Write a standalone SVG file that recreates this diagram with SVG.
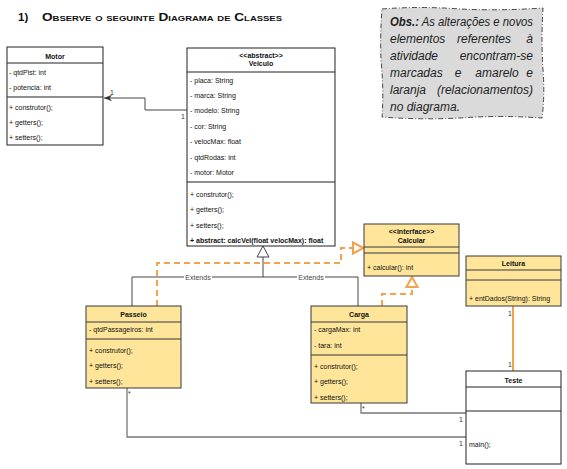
<svg xmlns="http://www.w3.org/2000/svg" width="567" height="469" viewBox="0 0 567 469">
<style>
text{font-family:"Liberation Sans",Arial,sans-serif;font-size:7px;fill:#111}
.b{font-weight:bold}
.c{text-anchor:middle}
.e{text-anchor:end}
.o{font-size:12px;font-style:italic;fill:#222}
.box{fill:#fff;stroke:#222;stroke-width:1}
.yb{fill:#ffe599;stroke:#36393d;stroke-width:1}
.dv{stroke:#222;stroke-width:1}
.ydv{stroke:#36393d;stroke-width:1}
.con{fill:none;stroke:#444;stroke-width:1}
.gcon{fill:none;stroke:#777;stroke-width:1.3}
.or{fill:none;stroke:#f4a24c;stroke-width:2;stroke-dasharray:6 4}
.lbl{font-size:7px;fill:#333}
.ext{font-size:7px;fill:#444}
</style>
<defs>
<marker id="open" viewBox="0 0 10 10" refX="10" refY="5" markerWidth="8" markerHeight="8" orient="auto" markerUnits="userSpaceOnUse">
<path d="M0,1 L10,5 L0,9 L3,5 Z" fill="#333"/>
</marker>
</defs>
<rect width="567" height="469" fill="#fff"/>
<g id="title">
<text x="18" y="21" class="b" style="font-size:11.5px">1)</text>
<text x="42" y="21" class="b" style="font-size:11.5px;font-variant:small-caps" textLength="240" lengthAdjust="spacingAndGlyphs">Observe o seguinte Diagrama de Classes</text>
</g>
<g id="obs">
<path d="M382,9 Q420,6 460,9 Q500,11 543,8 Q541,40 543,70 Q545,95 542,118 Q500,115 460,118 Q420,120 382,117 Q384,90 381,60 Q380,35 382,9 Z" fill="#dadada" stroke="#444" stroke-width="1" stroke-dasharray="5 2 1 2"/>
<text class="o" x="390" y="26" textLength="143" lengthAdjust="spacingAndGlyphs"><tspan font-weight="bold">Obs.:</tspan> As alterações e novos</text>
<text class="o" x="390" y="43">elementos</text>
<text class="o c" x="484" y="43">referentes</text>
<text class="o e" x="533" y="43">à</text>
<text class="o" x="390" y="60">atividade</text>
<text class="o e" x="533" y="60">encontram-se</text>
<text class="o" x="390" y="77">marcadas</text>
<text class="o c" x="458" y="77">e</text>
<text class="o c" x="497" y="77">amarelo</text>
<text class="o e" x="533" y="77">e</text>
<text class="o" x="390" y="94">laranja</text>
<text class="o e" x="533" y="94">(relacionamentos)</text>
<text class="o" x="390" y="111">no diagrama.</text>
</g>
<g id="connectors">
<path class="con" d="M187,110 H145 V98 H104" marker-end="url(#open)"/>
<text class="lbl" x="110" y="95">1</text>
<text class="lbl" x="181" y="119">1</text>
<path class="con" d="M132,306 V277 H358 V306"/>
<path class="con" d="M263,277 V257"/>
<path d="M263,246 L257,257 L269,257 Z" fill="#fff" stroke="#444" stroke-width="1"/>
<rect x="184" y="273" width="28" height="8" fill="#fff"/>
<text class="ext c" x="198" y="279.5">Extends</text>
<rect x="297" y="273" width="28" height="8" fill="#fff"/>
<text class="ext c" x="311" y="279.5">Extends</text>
<path class="or" d="M157,306 V263 H341 V248 H354"/>
<path d="M363.5,248 L353,242.5 L353,253.5 Z" fill="#fff" stroke="#f4a24c" stroke-width="2"/>
<path class="or" d="M382,306 V294 H412 V287"/>
<path d="M412,277 L406.5,287 L417.5,287 Z" fill="#fff" stroke="#f4a24c" stroke-width="2"/>
<path d="M513,306 V371" fill="none" stroke="#f4a24c" stroke-width="2"/>
<text class="lbl" x="508" y="316">1</text>
<text class="lbl" x="508" y="367">1</text>
<path class="gcon" d="M127,388 V437 H466"/>
<text class="lbl" x="128" y="396">*</text>
<text class="lbl" x="459" y="446">1</text>
<path class="gcon" d="M361,403 V413 H466"/>
<text class="lbl" x="362" y="411">*</text>
<text class="lbl" x="459" y="422">1</text>
</g>
<g id="motor">
<rect class="box" x="7" y="47" width="96" height="98"/>
<line class="dv" x1="7" y1="63" x2="103" y2="63"/>
<line class="dv" x1="7" y1="97" x2="103" y2="97"/>
<text class="b c" x="55" y="58.5">Motor</text>
<text x="9" y="74.5">- qtdPist: int</text>
<text x="9" y="89.5">- potencia: int</text>
<text x="9" y="109.5">+ construtor();</text>
<text x="9" y="124.5">+ getters();</text>
<text x="9" y="139.5">+ setters();</text>
</g>
<g id="veiculo">
<rect class="box" x="187" y="48" width="148" height="198"/>
<line class="dv" x1="187" y1="72" x2="335" y2="72"/>
<line class="dv" x1="187" y1="182" x2="335" y2="182"/>
<text class="b c" x="261" y="57.5">&lt;&lt;abstract&gt;&gt;</text>
<text class="b c" x="261" y="66">Veiculo</text>
<text x="190" y="82.5">- placa: String</text>
<text x="190" y="97.5">- marca: String</text>
<text x="190" y="113">- modelo: String</text>
<text x="190" y="128.5">- cor: String</text>
<text x="190" y="144">- velocMax: float</text>
<text x="190" y="159.5">- qtdRodas: int</text>
<text x="190" y="175">- motor: Motor</text>
<text x="190" y="196.5">+ construtor();</text>
<text x="190" y="211.5">+ getters();</text>
<text x="190" y="227.5">+ setters();</text>
<text x="190" y="242.5" class="b">+ abstract: calcVel(float velocMax): float</text>
</g>
<g id="calcular">
<rect class="yb" x="364" y="224" width="95" height="52"/>
<line class="ydv" x1="364" y1="247" x2="459" y2="247"/>
<line class="ydv" x1="364" y1="253" x2="459" y2="253"/>
<text class="b c" x="411.5" y="234">&lt;&lt;interface&gt;&gt;</text>
<text class="b c" x="411.5" y="242.5">Calcular</text>
<text x="367" y="269.5">+ calcular(): int</text>
</g>
<g id="leitura">
<rect class="yb" x="466" y="256" width="95" height="50"/>
<line class="ydv" x1="466" y1="270" x2="561" y2="270"/>
<line class="ydv" x1="466" y1="280" x2="561" y2="280"/>
<text class="b c" x="513.5" y="265.5">Leitura</text>
<text x="469" y="300.5">+ entDados(String): String</text>
</g>
<g id="teste">
<rect class="box" x="466" y="371" width="95" height="93" stroke="#555"/>
<line class="dv" x1="466" y1="387" x2="561" y2="387" stroke="#555"/>
<line class="dv" x1="466" y1="411" x2="561" y2="411" stroke="#555"/>
<text class="b c" x="513.5" y="382.5">Teste</text>
<text x="469" y="446.5">main();</text>
</g>
<g id="passeio">
<rect class="yb" x="86" y="306" width="95" height="82"/>
<line class="ydv" x1="86" y1="322" x2="181" y2="322"/>
<line class="ydv" x1="86" y1="339" x2="181" y2="339"/>
<text class="b c" x="133.5" y="316.5">Passeio</text>
<text x="89" y="331.5">- qtdPassageiros: int</text>
<text x="89" y="352.5">+ construtor();</text>
<text x="89" y="368">+ getters();</text>
<text x="89" y="383.5">+ setters();</text>
</g>
<g id="carga">
<rect class="yb" x="311" y="306" width="96" height="97"/>
<line class="ydv" x1="311" y1="322" x2="407" y2="322"/>
<line class="ydv" x1="311" y1="355" x2="407" y2="355"/>
<text class="b c" x="359" y="316.5">Carga</text>
<text x="314" y="331.5">- cargaMax: int</text>
<text x="314" y="348">- tara: int</text>
<text x="314" y="368.5">+ construtor();</text>
<text x="314" y="384">+ getters();</text>
<text x="314" y="399.5">+ setters();</text>
</g>
</svg>
